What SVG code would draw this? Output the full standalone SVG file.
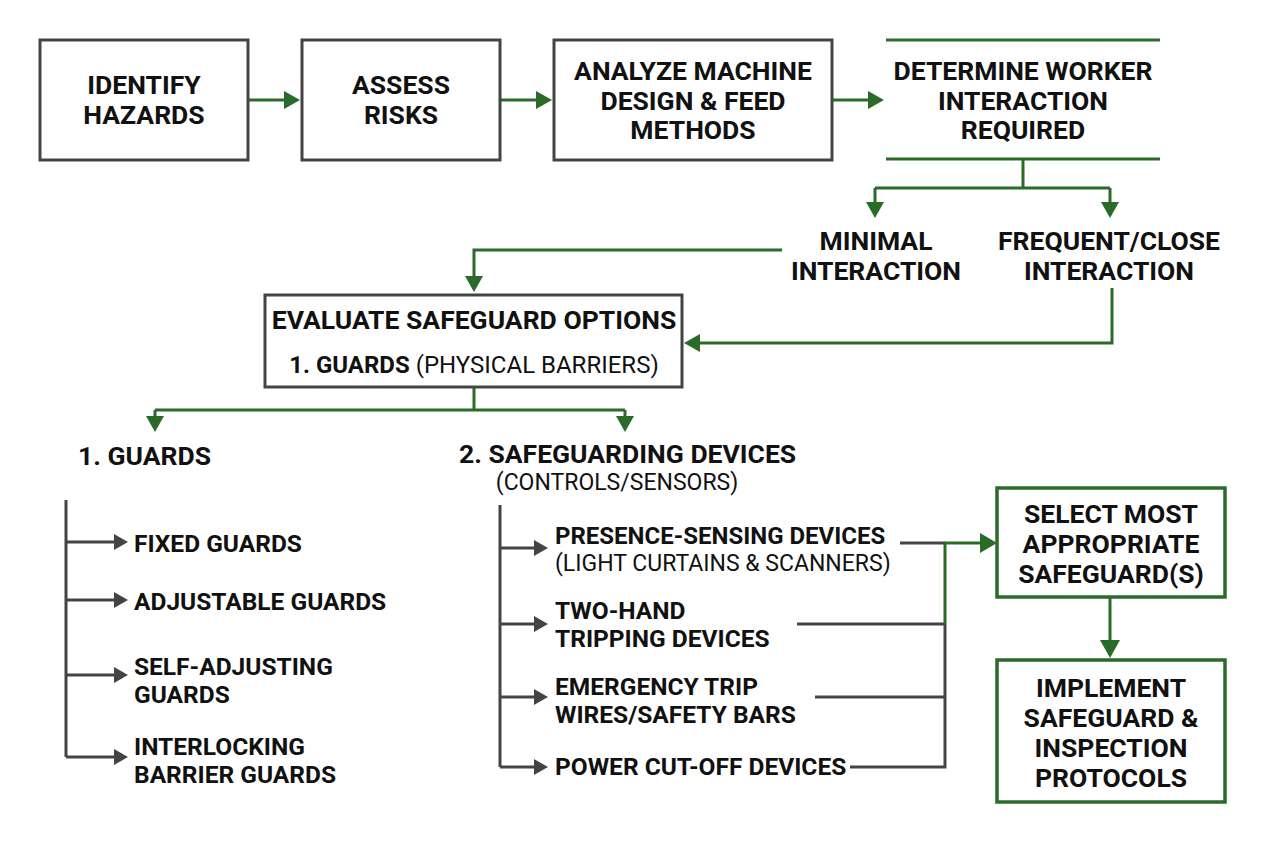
<svg xmlns="http://www.w3.org/2000/svg" width="1263" height="843" viewBox="0 0 1263 843">
<defs>
<style>
text{font-family:Roboto,"Liberation Sans",sans-serif;font-weight:700;font-size:26.5px;fill:#111}
.c{text-anchor:middle}
.n{font-weight:400}
.s{font-size:24.5px}
.box{fill:#fff;stroke:#444;stroke-width:3}
.gbox{fill:#fff;stroke:#2a6b2a;stroke-width:3.5}
.g{fill:none;stroke:#2a6b2a;stroke-width:3}
.k{fill:none;stroke:#444;stroke-width:3}
</style>
</defs>
<rect width="1263" height="843" fill="#fff"/>
<g id="connectors">
<path d="M300,100 l-16,-9 v18z M552,100 l-16,-9 v18z M884,100 l-16,-9 v18z" fill="#2a6b2a"/>
<path class="g" d="M248,100 H288 M500,100 H540 M832,100 H872"/>
<path class="g" d="M1023,159 V188 M875,188 H1110 M875,188 V206 M1110,188 V206"/>
<path d="M875,218 l-9,-16 h18z M1110,218 l-9,-16 h18z" fill="#2a6b2a"/>
<path class="g" d="M782,250 H474 V282"/>
<path d="M474,292 l-9,-16 h18z" fill="#2a6b2a"/>
<path class="g" d="M1112,288 V343 H696"/>
<path d="M684,343 l16,-9 v18z" fill="#2a6b2a"/>
<path class="g" d="M474,387 V410 M155,410 H625 M155,410 V422 M625,410 V422"/>
<path d="M155,432 l-9,-16 h18z M625,432 l-9,-16 h18z" fill="#2a6b2a"/>
<path class="k" d="M66,500 V757 M66,542 H116 M66,600 H116 M66,675 H116 M66,757 H116"/>
<path d="M128,542 l-14,-8 v16z M128,600 l-14,-8 v16z M128,675 l-14,-8 v16z M128,757 l-14,-8 v16z" fill="#444"/>
<path class="k" d="M500,505 V767 M500,548 H536 M500,624 H536 M500,697 H536 M500,767 H536"/>
<path d="M548,548 l-14,-8 v16z M548,624 l-14,-8 v16z M548,697 l-14,-8 v16z M548,767 l-14,-8 v16z" fill="#444"/>
<path class="k" d="M900,543 H945 M797,624 H945 M815,697 H945 M850,767 H945 V624"/>
<path class="g" d="M945,624 V543 H982"/>
<path d="M997,543 l-17,-10 v20z" fill="#2a6b2a"/>
<path class="g" d="M1110,597 V642"/>
<path d="M1110,658 l-10,-18 h20z" fill="#2a6b2a"/>
</g>
<g id="identify"><rect class="box" x="40" y="40" width="208" height="120"/><text class="c" x="144" y="94">IDENTIFY</text><text class="c" x="144" y="124">HAZARDS</text></g>
<g id="assess"><rect class="box" x="302" y="40" width="198" height="120"/><text class="c" x="401" y="94">ASSESS</text><text class="c" x="401" y="124">RISKS</text></g>
<g id="analyze"><rect class="box" x="554" y="40" width="278" height="120"/><text class="c" x="693" y="80">ANALYZE MACHINE</text><text class="c" x="693" y="110">DESIGN &amp; FEED</text><text class="c" x="693" y="139">METHODS</text></g>
<g id="determine"><path class="g" d="M886,40 H1160 M886,159 H1160"/><text class="c" x="1023" y="80">DETERMINE WORKER</text><text class="c" x="1023" y="110">INTERACTION</text><text class="c" x="1023" y="139">REQUIRED</text></g>
<g id="minimal"><text class="c" x="876" y="250">MINIMAL</text><text class="c" x="876" y="280">INTERACTION</text></g>
<g id="frequent"><text class="c" x="1109" y="250">FREQUENT/CLOSE</text><text class="c" x="1109" y="280">INTERACTION</text></g>
<g id="evaluate"><rect class="box" x="265" y="295" width="417" height="92"/><text class="c" x="474" y="329">EVALUATE SAFEGUARD OPTIONS</text><text class="c" x="474" y="373" style="font-size:24px">1. GUARDS <tspan class="n">(PHYSICAL BARRIERS)</tspan></text></g>
<g id="guards"><text x="78" y="465">1. GUARDS</text></g>
<g id="devices"><text x="459" y="463">2. SAFEGUARDING DEVICES</text><text class="c n" x="617" y="490" style="font-size:23px">(CONTROLS/SENSORS)</text></g>
<g id="fixed"><text class="s" x="134" y="552">FIXED GUARDS</text></g>
<g id="adjustable"><text class="s" x="134" y="610">ADJUSTABLE GUARDS</text></g>
<g id="selfadj"><text class="s" x="134" y="675">SELF-ADJUSTING</text><text class="s" x="134" y="703">GUARDS</text></g>
<g id="interlock"><text class="s" x="134" y="755">INTERLOCKING</text><text class="s" x="134" y="783">BARRIER GUARDS</text></g>
<g id="presence"><text x="555" y="544" style="font-size:24px">PRESENCE-SENSING DEVICES</text><text class="n" x="555" y="571" style="font-size:23px">(LIGHT CURTAINS &amp; SCANNERS)</text></g>
<g id="twohand"><text class="s" x="555" y="619">TWO-HAND</text><text class="s" x="555" y="647">TRIPPING DEVICES</text></g>
<g id="emergency"><text class="s" x="555" y="695">EMERGENCY TRIP</text><text class="s" x="555" y="723">WIRES/SAFETY BARS</text></g>
<g id="power"><text class="s" x="555" y="775">POWER CUT-OFF DEVICES</text></g>
<g id="select"><rect class="gbox" x="997" y="488" width="228" height="109"/><text class="c" x="1111" y="523">SELECT MOST</text><text class="c" x="1111" y="553">APPROPRIATE</text><text class="c" x="1111" y="583">SAFEGUARD(S)</text></g>
<g id="implement"><rect class="gbox" x="997" y="660" width="228" height="142"/><text class="c" x="1111" y="697">IMPLEMENT</text><text class="c" x="1111" y="727">SAFEGUARD &amp;</text><text class="c" x="1111" y="757">INSPECTION</text><text class="c" x="1111" y="787">PROTOCOLS</text></g>
</svg>
